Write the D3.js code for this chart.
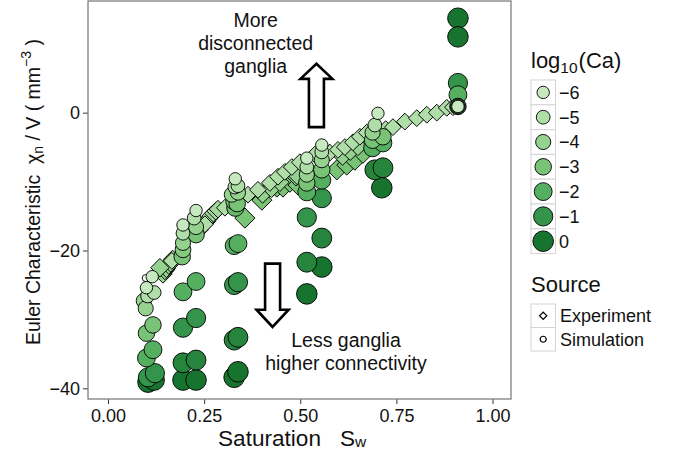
<!DOCTYPE html>
<html>
<head>
<meta charset="utf-8">
<script src="https://cdn.jsdelivr.net/npm/d3@7"></script>
<style>
body { margin: 0; background: #fff; }
svg { font-family: 'Liberation Sans', Arial, Helvetica, sans-serif; }
</style>
</head>
<body>
<svg id="chart" width="676" height="455"></svg>
<script>
/* Euler characteristic vs saturation, coloured by log10(Ca) */

const caBreaks = [-6, -5, -4, -3, -2, -1, 0];
const caColors = ['#c7e9c0', '#b0dea8', '#95d28f', '#79c377', '#55af61', '#34944b', '#17742f'];
const xTicks = [0, 0.25, 0.5, 0.75, 1];
const yTicks = [-40, -20, 0];
const sourceLabels = ['Experiment', 'Simulation'];

// [Sw, chi/V, log10 Ca]
const simPoints = [
	[0.100, -25.4, -6], [0.103, -26.6, -5], [0.093, -27.3, -4], [0.098, -28.4, -4], [0.100, -32.0, -3],
	[0.100, -35.6, -2], [0.104, -38.4, -1], [0.104, -39.1, 0],
	[0.115, -23.8, -6], [0.120, -26.1, -5], [0.117, -30.8, -3], [0.117, -34.4, -2], [0.122, -37.8, -1],
	[0.120, -38.8, 0],
	[0.195, -16.3, -6], [0.195, -17.5, -5], [0.195, -18.9, -4], [0.195, -19.9, -3.5], [0.193, -20.9, -3],
	[0.195, -26.0, -2], [0.195, -31.2, -1], [0.195, -36.3, -0.5], [0.195, -38.8, 0],
	[0.229, -14.2, -6], [0.224, -15.3, -5], [0.229, -16.6, -4], [0.229, -17.7, -3], [0.229, -24.5, -2],
	[0.229, -29.8, -1], [0.229, -35.9, -0.5], [0.229, -38.8, 0],
	[0.331, -9.6, -6], [0.330, -10.8, -5], [0.322, -11.9, -4], [0.328, -12.9, -3], [0.331, -13.8, -2.5],
	[0.328, -19.3, -2], [0.328, -25.0, -1], [0.328, -33.0, -0.5], [0.328, -38.4, 0],
	[0.338, -10.6, -5], [0.338, -11.6, -4], [0.336, -13.2, -3], [0.338, -19.0, -2], [0.338, -24.6, -1],
	[0.338, -32.6, -0.5], [0.338, -37.6, 0],
	[0.517, -6.6, -6], [0.517, -7.9, -5], [0.517, -9.0, -4], [0.517, -10.2, -3], [0.517, -11.5, -2],
	[0.517, -15.2, -1], [0.517, -21.7, -0.5], [0.517, -26.3, 0],
	[0.556, -4.7, -6], [0.556, -5.7, -5], [0.556, -6.9, -4], [0.556, -8.3, -3], [0.556, -9.8, -2],
	[0.556, -12.4, -1], [0.556, -18.2, -0.5], [0.556, -22.4, 0],
	[0.702, -0.1, -6], [0.694, -1.8, -5], [0.688, -2.9, -4], [0.688, -4.0, -3], [0.688, -5.1, -2],
	[0.694, -8.3, -0.5],
	[0.715, -3.5, -3], [0.715, -4.4, -2], [0.715, -8.0, -0.5], [0.712, -10.9, 0],
	[0.910, 13.7, 0], [0.910, 11.0, 0], [0.910, 4.3, -1], [0.910, 2.6, -2],
	[0.910, 0.9, -3], [0.910, 0.9, -4], [0.910, 0.9, -5], [0.910, 0.9, -6]
];

const simNoCa = [[0.098, -24.0]];

const expPoints = [
	[0.143, -23.4, -4], [0.148, -22.9, -4], [0.152, -22.6, -4], [0.158, -22.1, -4], [0.163, -21.8, -4],
	[0.168, -21.3, -4], [0.135, -22.5, -4],
	[0.257, -15.8, -4.5], [0.262, -15.4, -4.5], [0.267, -15.0, -4.5], [0.274, -14.6, -4.5],
	[0.280, -14.3, -4.5], [0.286, -14.0, -4.5],
	[0.356, -15.3, -3], [0.400, -12.7, -3], [0.439, -10.8, -3], [0.455, -10.8, -3], [0.473, -10.1, -3],
	[0.494, -10.5, -3], [0.595, -8.3, -3], [0.621, -7.6, -3], [0.642, -6.9, -3], [0.663, -5.9, -3],
	[0.402, -11.8, -4], [0.425, -11.0, -4], [0.447, -10.1, -4],
	[0.489, -9.3, -4], [0.492, -9.1, -4], [0.610, -6.3, -4], [0.630, -5.6, -4], [0.650, -4.9, -4],
	[0.166, -21.5, -5], [0.239, -17.0, -5], [0.252, -16.2, -5], [0.304, -13.8, -5], [0.364, -11.9, -5],
	[0.390, -11.2, -5], [0.421, -10.2, -5], [0.442, -9.3, -5], [0.460, -8.6, -5], [0.478, -7.9, -5],
	[0.499, -7.2, -5], [0.538, -6.1, -5], [0.577, -5.8, -5], [0.598, -5.4, -5], [0.616, -5.0, -5],
	[0.637, -4.3, -5], [0.655, -3.5, -5], [0.673, -2.9, -5], [0.722, -2.4, -5], [0.741, -2.1, -5],
	[0.772, -1.3, -5], [0.803, -0.8, -5], [0.829, -0.3, -5], [0.855, 0.0, -5], [0.881, 0.7, -5],
	[0.897, 0.8, -5]
];

let svg = d3.select('#chart'),
	panel = {left: 88, top: 1, right: 511, bottom: 399},
	x = d3.scaleLinear().domain([-0.052, 1.048]).range([panel.left, panel.right]),
	y = d3.scaleLinear().domain([-41.55, 16.2]).range([panel.bottom, panel.top]),
	fill = d3.scaleLinear().domain(caBreaks).range(caColors),
	radius = d3.scaleLinear().domain([-6, 0]).range([6.2, 10.3]),
	fmtInt = d3.format('d');

function diamondPath(h) {
	return d3.symbol(d3.symbolSquare, 2 * h * h)();
}

// axes
let xAxis = svg.append('g')
	.attr('transform', 'translate(0,' + panel.bottom + ')')
	.call(d3.axisBottom(x).tickValues(xTicks).tickFormat(d3.format('.2f')).tickSize(5).tickSizeOuter(0));
xAxis.select('.domain').remove();
xAxis.selectAll('line').attr('stroke', '#333');
xAxis.selectAll('text').attr('y', 10).attr('font-size', 18).attr('fill', '#111');

let yAxis = svg.append('g')
	.attr('transform', 'translate(' + panel.left + ',0)')
	.call(d3.axisLeft(y).tickValues(yTicks).tickFormat(fmtInt).tickSize(5).tickSizeOuter(0));
yAxis.select('.domain').remove();
yAxis.selectAll('line').attr('stroke', '#333');
yAxis.selectAll('text').attr('font-size', 18).attr('fill', '#111');
xAxis.attr('font-family', null);
yAxis.attr('font-family', null);

// panel border
svg.append('rect')
	.attr('x', panel.left).attr('y', panel.top)
	.attr('width', panel.right - panel.left).attr('height', panel.bottom - panel.top)
	.attr('fill', 'none').attr('stroke', '#7f7f7f').attr('stroke-width', 1.3);

// annotations
let textFill = '#111';
svg.append('text')
	.attr('text-anchor', 'middle').attr('font-size', 19.5).attr('fill', textFill)
	.selectAll('tspan')
	.data(['More', 'disconnected', 'ganglia'])
	.enter().append('tspan')
	.attr('x', x(0.384))
	.attr('y', function(d, i) { return y(12.4) + i * 23; })
	.text(function(d) { return d; });

svg.append('text')
	.attr('text-anchor', 'middle').attr('font-size', 19.5).attr('fill', textFill)
	.selectAll('tspan')
	.data(['Less ganglia', 'higher connectivity'])
	.enter().append('tspan')
	.attr('x', x(0.619))
	.attr('y', function(d, i) { return y(-33.96) + i * 23.3; })
	.text(function(d) { return d; });

function arrow(cx, tip, base, tail) {
	let px = x(cx), t = y(tip), b = y(base), e = y(tail), hw = 16, sw = 7.5;
	return 'M' + px + ',' + t + 'L' + (px + hw) + ',' + b + 'L' + (px + sw) + ',' + b +
		'L' + (px + sw) + ',' + e + 'L' + (px - sw) + ',' + e + 'L' + (px - sw) + ',' + b +
		'L' + (px - hw) + ',' + b + 'Z';
}

svg.append('path').attr('d', arrow(0.542, 7.1, 4.9, -2.1))
	.attr('fill', '#fff').attr('stroke', '#000').attr('stroke-width', 2.6);
svg.append('path').attr('d', arrow(0.428, -31.1, -28.6, -21.9))
	.attr('fill', '#fff').attr('stroke', '#000').attr('stroke-width', 2.6);

// points: experiments (diamonds) under simulations (circles)
svg.append('g').selectAll('path')
	.data(expPoints)
	.enter().append('path')
	.attr('d', function(d) { return diamondPath(radius(d[2]) * 1.22); })
	.attr('transform', function(d) { return 'translate(' + x(d[0]) + ',' + y(d[1]) + ') rotate(45)'; })
	.attr('fill', function(d) { return fill(d[2]); })
	.attr('stroke', '#000').attr('stroke-width', 0.9);

svg.append('g').selectAll('circle')
	.data(simNoCa)
	.enter().append('circle')
	.attr('cx', function(d) { return x(d[0]); })
	.attr('cy', function(d) { return y(d[1]); })
	.attr('r', 3.5)
	.attr('fill', '#fff').attr('stroke', '#000').attr('stroke-width', 0.9);

svg.append('g').selectAll('circle')
	.data(simPoints.slice().sort(function(a, b) { return b[2] - a[2]; }))
	.enter().append('circle')
	.attr('cx', function(d) { return x(d[0]); })
	.attr('cy', function(d) { return y(d[1]); })
	.attr('r', function(d) { return radius(d[2]); })
	.attr('fill', function(d) { return fill(d[2]); })
	.attr('stroke', '#000').attr('stroke-width', 0.9);

// axis titles
svg.append('text')
	.attr('x', 218).attr('y', 445.5).attr('font-size', 22.6).attr('fill', textFill)
	.text('Saturation');
let sw = svg.append('text')
	.attr('x', 340).attr('y', 445.5).attr('font-size', 22.6).attr('fill', textFill)
	.text('S');
sw.append('tspan').attr('font-size', 15.5).attr('dy', 1.5).text('w');

let yt = svg.append('text')
	.attr('transform', 'translate(40,345) rotate(-90)')
	.attr('font-size', 19.5).attr('fill', textFill)
	.style('white-space', 'pre')
	.text('Euler Characteristic  \u03c7');
yt.append('tspan').attr('font-size', 14).attr('dy', 3).text('n');
yt.append('tspan').attr('dy', -3).text(' / V ( mm');
yt.append('tspan').attr('font-size', 14).attr('dy', -9).text('\u22123');
yt.append('tspan').attr('dy', 9).text(' )');

// legend: log10(Ca)
let lg = svg.append('g');
let lt = lg.append('text').attr('x', 531).attr('y', 68).attr('font-size', 22).attr('fill', textFill).text('log');
lt.append('tspan').attr('font-size', 15.5).attr('dy', 5).text('10');
lt.append('tspan').attr('dy', -5).attr('dx', 1).text('(Ca)');

let keyH = 24.8, keyTop = 80;
let keys = lg.selectAll('.key')
	.data(caBreaks)
	.enter().append('g')
	.attr('class', 'key')
	.attr('transform', function(d, i) { return 'translate(531,' + (keyTop + i * keyH) + ')'; });
keys.append('rect').attr('width', 24.5).attr('height', keyH)
	.attr('fill', '#fff').attr('stroke', '#d4d4d4').attr('stroke-width', 1);
keys.append('circle').attr('cx', 12.2).attr('cy', keyH / 2)
	.attr('r', function(d) { return radius(d); })
	.attr('fill', function(d) { return fill(d); })
	.attr('stroke', '#000').attr('stroke-width', 0.9);
keys.append('text').attr('x', 28).attr('y', keyH / 2 + 6.5)
	.attr('font-size', 18).attr('fill', textFill)
	.text(function(d) { return fmtInt(d); });

// legend: Source
lg.append('text').attr('x', 531).attr('y', 292).attr('font-size', 22).attr('fill', textFill).text('Source');
let srcH = 23.5, srcTop = 304;
let src = lg.selectAll('.src')
	.data(sourceLabels)
	.enter().append('g')
	.attr('class', 'src')
	.attr('transform', function(d, i) { return 'translate(531,' + (srcTop + i * srcH) + ')'; });
src.append('rect').attr('width', 24.5).attr('height', srcH)
	.attr('fill', '#fff').attr('stroke', '#d4d4d4').attr('stroke-width', 1);
src.append('path')
	.attr('d', function(d, i) { return i === 0 ? diamondPath(3.6) : d3.symbol(d3.symbolCircle, Math.PI * 9)(); })
	.attr('transform', function(d, i) { return 'translate(12.2,' + srcH / 2 + ') rotate(' + (i === 0 ? 45 : 0) + ')'; })
	.attr('fill', '#fff').attr('stroke', '#000').attr('stroke-width', 1.2);
src.append('text').attr('x', 29).attr('y', srcH / 2 + 6.5)
	.attr('font-size', 18).attr('fill', textFill)
	.text(function(d) { return d; });
</script>
</body>
</html>
